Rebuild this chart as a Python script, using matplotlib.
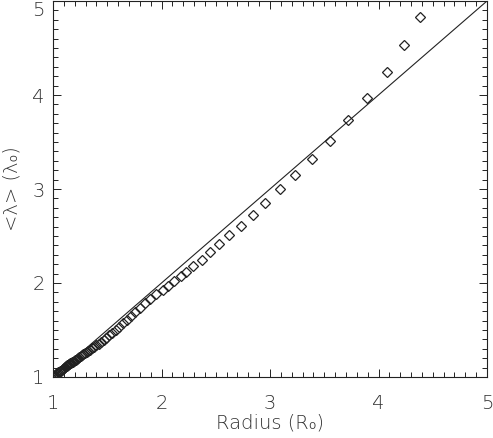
import matplotlib
matplotlib.use("Agg")
import matplotlib.pyplot as plt
from matplotlib.ticker import MultipleLocator

# mean wavelength vs radius (dense near the surface)
radius = [
    1.000, 1.005, 1.010, 1.020, 1.030, 1.040, 1.050, 1.060, 1.070, 1.080,
    1.090, 1.100, 1.110, 1.120, 1.126, 1.132, 1.138, 1.144, 1.151, 1.158,
    1.165, 1.173, 1.181, 1.190, 1.199, 1.209, 1.219, 1.230, 1.242, 1.254,
    1.267, 1.281, 1.295, 1.310, 1.326, 1.343, 1.361, 1.380, 1.400, 1.421,
    1.444, 1.468, 1.493, 1.520, 1.548, 1.578, 1.610, 1.644, 1.680, 1.718,
    1.759, 1.802, 1.848, 1.897, 1.949, 2.011, 2.063, 2.115, 2.177, 2.226,
    2.293, 2.370, 2.447, 2.533, 2.625, 2.730, 2.841, 2.954, 3.092, 3.230,
    3.384, 3.553, 3.722, 3.897, 4.076, 4.235, 4.382,
]
mean_lambda = [
    1.000, 1.005, 1.010, 1.020, 1.030, 1.040, 1.050, 1.059, 1.068, 1.076,
    1.085, 1.095, 1.104, 1.113, 1.118, 1.123, 1.128, 1.133, 1.139, 1.145,
    1.151, 1.157, 1.164, 1.171, 1.178, 1.186, 1.194, 1.203, 1.212, 1.222,
    1.232, 1.243, 1.254, 1.265, 1.278, 1.291, 1.305, 1.320, 1.336, 1.354,
    1.374, 1.396, 1.419, 1.445, 1.473, 1.504, 1.537, 1.573, 1.611, 1.651,
    1.694, 1.739, 1.786, 1.834, 1.882, 1.921, 1.971, 2.017, 2.070, 2.112,
    2.177, 2.248, 2.330, 2.419, 2.515, 2.611, 2.728, 2.853, 2.995, 3.144,
    3.322, 3.512, 3.734, 3.973, 4.240, 4.531, 4.826,
]

# reference line <lambda> = r
line_r = [1, 5]
line_lambda = [1, 5]

tick_values = [1, 2, 3, 4, 5]
tick_labels = ["1", "2", "3", "4", "5"]

INK = "#222222"
TEXT = "#333333"
plt.rcParams["font.family"] = ["DejaVu Sans"]

fig = plt.figure(figsize=(4.93, 4.38), dpi=100)
ax = fig.add_axes([53 / 493, 1 - 377 / 438, 434 / 493, 376 / 438])

ax.plot(line_r, line_lambda, color=INK, lw=0.8)
ax.plot(radius, mean_lambda, ls="none", marker="D", ms=4.8,
        mfc="none", mec=INK, mew=0.9)

ax.set_xlim(1, 5)
ax.set_ylim(1, 5)
ax.set_xticks(tick_values, tick_labels)
ax.set_yticks(tick_values, tick_labels)
ax.xaxis.set_minor_locator(MultipleLocator(0.1))
ax.yaxis.set_minor_locator(MultipleLocator(0.1))

ax.tick_params(which="both", direction="in", top=True, right=True,
               color=INK, width=0.7)
ax.tick_params(which="major", length=6)
ax.tick_params(which="minor", length=3.6)
ax.tick_params(axis="x", which="major", pad=12)
ax.tick_params(axis="y", which="major", pad=6)
for lbl in ax.get_xticklabels() + ax.get_yticklabels():
    lbl.set_fontsize(14)
    lbl.set_color(TEXT)
    lbl.set_fontweight("light")
for side in ax.spines.values():
    side.set_color(INK)
    side.set_linewidth(0.8)

# keep the top y label inside the canvas
ax.get_yticklabels()[-1].set_va("top")

ax.set_xlabel("Radius (R₀)", fontsize=14, color=TEXT, fontweight="light")
ax.set_ylabel("<λ> (λ₀)", fontsize=14, color=TEXT, fontweight="light")
ax.xaxis.set_label_coords(0.5, -0.098)
ax.yaxis.set_label_coords(-0.072, 0.5)

fig.savefig("out.png", dpi=100)
